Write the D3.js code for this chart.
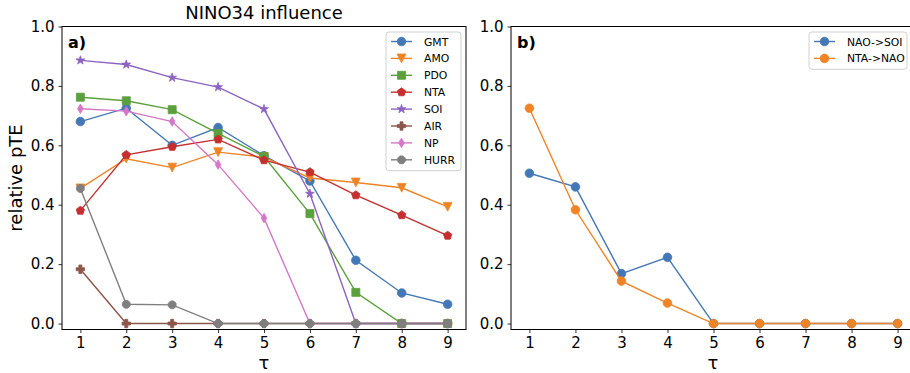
<!DOCTYPE html>
<html>
<head>
<meta charset="utf-8">
<script src="https://cdn.jsdelivr.net/npm/d3@7"></script>
<style>
  body { margin: 0; background: #fff; }
  svg { display: block; font-family: "DejaVu Sans", sans-serif; }
</style>
</head>
<body>
<svg id="chart" width="910" height="373"></svg>
<script>
// ---- data
const taus = [1, 2, 3, 4, 5, 6, 7, 8, 9];
const yTicks = [0, 0.2, 0.4, 0.6, 0.8, 1.0];

const seriesNames = ['GMT', 'AMO', 'PDO', 'NTA', 'SOI', 'AIR', 'NP', 'HURR'];
const gmt  = [0.680, 0.725, 0.600, 0.660, 0.565, 0.480, 0.213, 0.103, 0.065];
const amo  = [0.455, 0.555, 0.525, 0.577, 0.560, 0.490, 0.475, 0.457, 0.393];
const pdo  = [0.762, 0.750, 0.720, 0.640, 0.562, 0.370, 0.105, 0.000, 0.000];
const nta  = [0.380, 0.568, 0.595, 0.620, 0.550, 0.510, 0.432, 0.365, 0.296];
const soi  = [0.886, 0.872, 0.828, 0.796, 0.722, 0.437, 0.000, 0.000, 0.000];
const air  = [0.183, 0.000, 0.000, 0.000, 0.000, 0.000, 0.000, 0.000, 0.000];
const np   = [0.723, 0.715, 0.680, 0.535, 0.355, 0.000, 0.000, 0.000, 0.000];
const hurr = [0.455, 0.065, 0.063, 0.000, 0.000, 0.000, 0.000, 0.000, 0.000];

const pairNames = ['NAO->SOI', 'NTA->NAO'];
const naoSoi = [0.506, 0.460, 0.168, 0.223, 0.000, 0.000, 0.000, 0.000, 0.000];
const ntaNao = [0.725, 0.383, 0.143, 0.069, 0.000, 0.000, 0.000, 0.000, 0.000];

const colors = ['#4477b6', '#ef8426', '#5ba03c', '#c4302f', '#8c63c2', '#8c564b', '#d577c8', '#7f7f7f'];

// ---- marker shapes (path at origin, size ~9px)
function poly(n, r, rot) {
    const pts = d3.range(n).map(i => {
        const a = rot + i * 2 * Math.PI / n;
        return [r * Math.sin(a), -r * Math.cos(a)];
    });
    return 'M' + pts.map(p => p.join(',')).join('L') + 'Z';
}
const markers = {
    circle: () => d3.symbol(d3.symbolCircle, Math.PI * 4.3 * 4.3)(),
    tridown: () => 'M0,4.4L-4.4,-4.4L4.4,-4.4Z',
    square: () => 'M-4,-4L4,-4L4,4L-4,4Z',
    pentagon: () => poly(5, 4.4, 0),
    star: () => d3.symbol(d3.symbolStar, 24)(),
    plus: () => 'M-1.5,-4.2H1.5V-1.5H4.2V1.5H1.5V4.2H-1.5V1.5H-4.2V-1.5H-1.5Z',
    thindiamond: () => 'M0,-4.8L2.8,0L0,4.8L-2.8,0Z',
    octagon: () => poly(8, 4.2, Math.PI / 8)
};
const markerOf = ['circle', 'tridown', 'square', 'pentagon', 'star', 'plus', 'thindiamond', 'octagon'];

const svg = d3.select('#chart');

const y = d3.scaleLinear().domain([-0.02, 1.0]).range([329.5, 26.5]);

function drawPanel(x0, x1, seriesList, mk, label) {
    const x = d3.scaleLinear().domain([0.6, 9.4]).range([x0, x1]);
    const g = svg.append('g');

    g.append('g')
        .attr('transform', `translate(${x0},0)`)
        .call(d3.axisLeft(y).tickValues(yTicks).tickFormat(d3.format('.1f')).tickSize(3.5).tickPadding(4))
        .call(a => a.select('.domain').remove())
        .call(a => a.selectAll('text').attr('font-size', '15px').attr('fill', '#000').attr('font-family', '"DejaVu Sans"'))
        .call(a => a.selectAll('line').attr('stroke', '#000').attr('stroke-width', 0.8));

    g.append('g')
        .attr('transform', `translate(0,${y.range()[0]})`)
        .call(d3.axisBottom(x).tickValues(taus).tickFormat(d3.format('d')).tickSize(3.5).tickPadding(4))
        .call(a => a.select('.domain').remove())
        .call(a => a.selectAll('text').attr('font-size', '15px').attr('fill', '#000').attr('font-family', '"DejaVu Sans"'))
        .call(a => a.selectAll('line').attr('stroke', '#000').attr('stroke-width', 0.8));

    seriesList.forEach((vals, i) => {
        const pts = taus.map((t, j) => [t, vals[j]]);
        g.append('path')
            .datum(pts)
            .attr('fill', 'none')
            .attr('stroke', colors[i])
            .attr('stroke-width', 1.4)
            .attr('d', d3.line().x(d => x(d[0])).y(d => y(d[1])));
        g.selectAll(null)
            .data(pts)
            .join('path')
            .attr('transform', d => `translate(${x(d[0])},${y(d[1])})`)
            .attr('d', markers[mk[i]]())
            .attr('fill', colors[i])
            .attr('stroke', colors[i])
            .attr('stroke-width', 0.8);
    });

    g.append('rect')
        .attr('x', x0).attr('y', y.range()[1])
        .attr('width', x1 - x0).attr('height', y.range()[0] - y.range()[1])
        .attr('fill', 'none').attr('stroke', '#000').attr('stroke-width', 1);

    g.append('text')
        .attr('x', x0 + 6).attr('y', 48)
        .attr('font-size', '16px').attr('font-weight', 'bold')
        .text(label);

    return x;
}

drawPanel(62, 466, [gmt, amo, pdo, nta, soi, air, np, hurr], markerOf, 'a)');
drawPanel(511, 916, [naoSoi, ntaNao], ['circle', 'circle'], 'b)');

// ---- legends
function legend(bx, by, bw, names, mk) {
    const step = 16.9;
    const lg = svg.append('g').attr('transform', `translate(${bx},${by})`);
    lg.append('rect')
        .attr('width', bw).attr('height', names.length * step + 3.5)
        .attr('rx', 3).attr('fill', '#fff').attr('fill-opacity', 0.8)
        .attr('stroke', '#d0d0d0').attr('stroke-width', 1);
    names.forEach((n, i) => {
        const cy = 9.5 + i * step;
        lg.append('line')
            .attr('x1', 5).attr('x2', 26).attr('y1', cy).attr('y2', cy)
            .attr('stroke', colors[i]).attr('stroke-width', 1.4);
        lg.append('path')
            .attr('transform', `translate(15.5,${cy})`)
            .attr('d', markers[mk[i]]())
            .attr('fill', colors[i]).attr('stroke', colors[i]).attr('stroke-width', 0.8);
        lg.append('text')
            .attr('x', 38).attr('y', cy + 4)
            .attr('font-size', '10.8px').attr('fill', '#000')
            .text(n);
    });
}
legend(386, 32, 75, seriesNames, markerOf);
legend(809, 32, 98, pairNames, ['circle', 'circle']);

// ---- titles and axis labels
svg.append('text')
    .attr('x', 264).attr('y', 19)
    .attr('text-anchor', 'middle').attr('font-size', '18px')
    .text('NINO34 influence');

svg.append('text')
    .attr('transform', 'translate(22,178) rotate(-90)')
    .attr('text-anchor', 'middle').attr('font-size', '18px')
    .text('relative pTE');

[264, 713].forEach(cx => {
    svg.append('text')
        .attr('x', cx).attr('y', 369)
        .attr('text-anchor', 'middle').attr('font-size', '18px')
        .text('τ');
});
</script>
</body>
</html>
